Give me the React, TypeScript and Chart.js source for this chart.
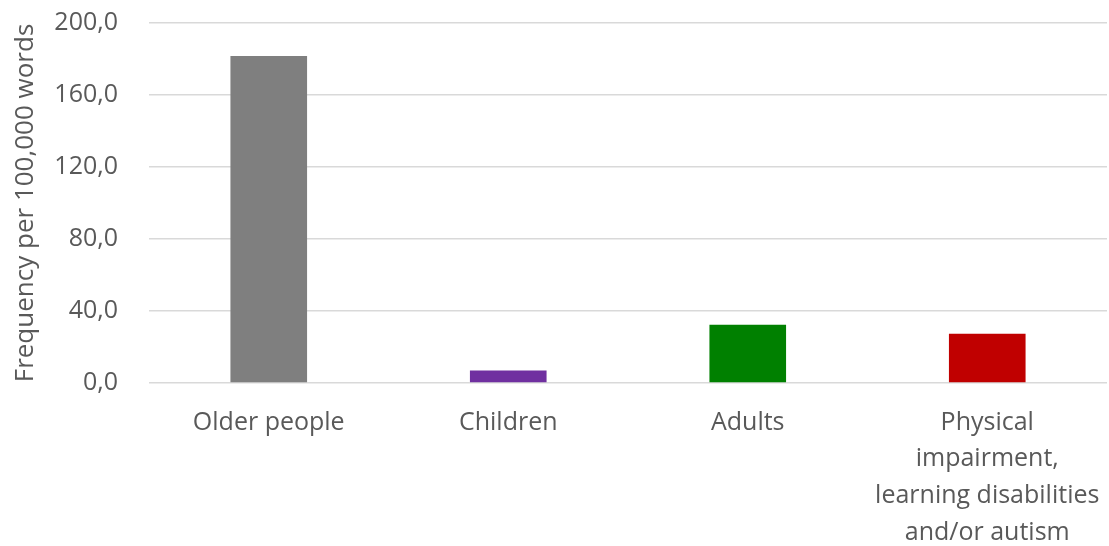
import React, { useEffect, useRef } from "react";
import { Chart, registerables } from "chart.js";

Chart.register(...registerables);

const categories: (string | string[])[] = [
  "Older people",
  "Children",
  "Adults",
  ["Physical", "impairment,", "learning disabilities", "and/or autism"],
];
const values = [181.7, 6.9, 32.3, 27.4];
const barColors = ["#7f7f7f", "#7030a0", "#008000", "#c00000"];
const yTitle = "Frequency per 100,000 words";

const FONT = "'Open Sans', sans-serif";

const zeroPad = (s: any) => {
  s.paddingLeft = 0;
  s.paddingRight = 0;
  s.paddingTop = 0;
  s.paddingBottom = 0;
};

export default function App() {
  const ref = useRef<HTMLCanvasElement | null>(null);
  useEffect(() => {
    if (!ref.current) return;
    const chart = new Chart(ref.current, {
      type: "bar",
      data: {
        labels: categories,
        datasets: [
          {
            data: values,
            backgroundColor: barColors,
            borderWidth: 0,
            categoryPercentage: 1,
            barPercentage: 0.32,
          },
        ],
      },
      options: {
        animation: false,
        responsive: false,
        maintainAspectRatio: false,
        layout: { autoPadding: false, padding: { top: 23, right: 2, left: 10, bottom: 0 } },
        plugins: { legend: { display: false }, tooltip: { enabled: false } },
        scales: {
          x: {
            grid: { display: false, drawTicks: false },
            border: { display: false },
            ticks: {
              color: "#595959",
              font: { family: FONT, size: 25, lineHeight: 1.47 },
              padding: 21,
              maxRotation: 0,
              autoSkip: false,
            },
            afterFit: (s: any) => {
              s.height = 163;
              zeroPad(s);
            },
          },
          y: {
            min: 0,
            max: 200,
            grid: { color: "#d9d9d9", lineWidth: 1.5, drawTicks: false },
            border: { display: false },
            ticks: {
              stepSize: 40,
              color: "#595959",
              font: { family: FONT, size: 25 },
              padding: 31,
              callback: (v: any) => Number(v).toFixed(1).replace(".", ","),
            },
            title: {
              display: true,
              text: yTitle,
              color: "#595959",
              font: { family: FONT, size: 26 },
              padding: 0,
            },
            afterFit: (s: any) => {
              s.width = 139;
              zeroPad(s);
            },
          },
        },
      },
    });
    return () => chart.destroy();
  }, []);
  return (
    <div style={{ position: "fixed", left: 0, top: 0, width: 1109, height: 546, background: "#fff" }}>
      <canvas ref={ref} width={1109} height={546} style={{ width: 1109, height: 546 }} />
    </div>
  );
}
